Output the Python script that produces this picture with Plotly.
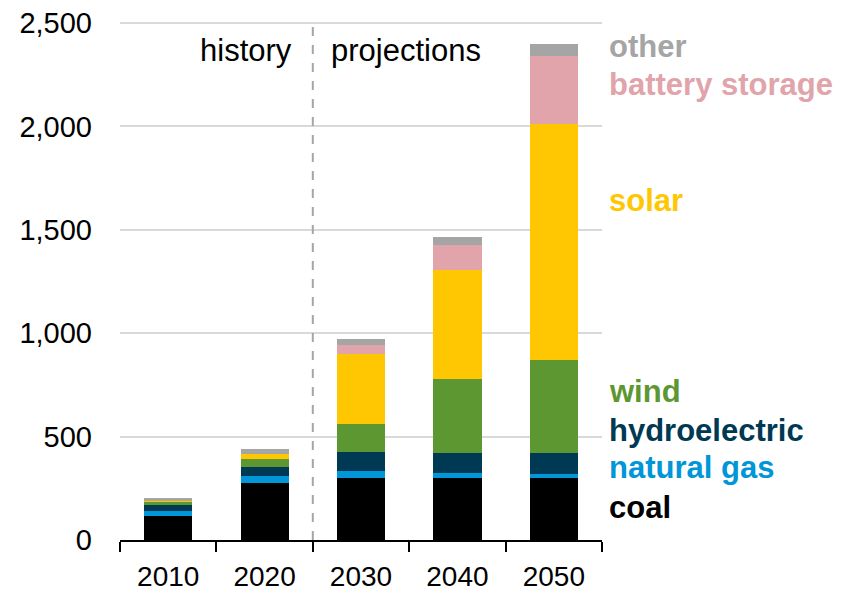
import plotly.graph_objects as go

years = ["2010", "2020", "2030", "2040", "2050"]
coal = [115, 278, 302, 302, 302]
natural_gas = [26, 31, 31, 23, 18]
hydroelectric = [29, 42, 91, 94, 99]
wind = [16, 39, 139, 358, 450]
solar = [2, 27, 337, 529, 1144]
battery_storage = [0, 0, 43, 120, 330]
other = [14, 25, 31, 41, 56]

series = [
    ("coal", coal, "#000000"),
    ("natural gas", natural_gas, "#0096D7"),
    ("hydroelectric", hydroelectric, "#003953"),
    ("wind", wind, "#5D9732"),
    ("solar", solar, "#FFC702"),
    ("battery storage", battery_storage, "#E1A4AA"),
    ("other", other, "#A5A5A5"),
]

FONT = "Arial, Liberation Sans, sans-serif"

# page has an 8px body margin, so figure is sized/shifted to compensate
OFF = 8
W, H = 841 - OFF, 591 - OFF
PL, PR, PT, PB = 120, 602, 22, 540  # plot area in screen pixels

fig = go.Figure()
for name, vals, col in series:
    fig.add_trace(go.Bar(x=years, y=vals, name=name, marker_color=col,
                         marker_line_width=0, showlegend=False))

fig.update_layout(
    barmode="stack",
    bargap=0.5,
    width=W, height=H,
    margin=dict(l=PL - OFF, r=W - (PR - OFF), t=PT - OFF, b=H - (PB - OFF), pad=0,
                autoexpand=False),
    plot_bgcolor="white", paper_bgcolor="white",
    font=dict(family=FONT, size=28, color="#000000"),
)
fig.update_yaxes(range=[0, 2505], tickvals=[0, 500, 1000, 1500, 2000, 2500],
                 ticktext=["0", "500", "1,000", "1,500", "2,000", "2,500"],
                 showgrid=True, gridcolor="#D9D9D9", gridwidth=1.5,
                 zeroline=False, showline=False, ticks="", automargin=False,
                 ticklabeloverflow="allow",
                 ticklabelstandoff=27, tickfont=dict(size=29))
fig.update_xaxes(showline=True, linecolor="#000000", linewidth=1.5,
                 ticks="outside", tickson="boundaries", ticklen=10,
                 tickcolor="#000000", tickwidth=1.5, tickfont=dict(size=28),
                 ticklabeloverflow="allow",
                 ticklabelstandoff=11, range=[-0.5, 4.5], automargin=False)

fig.add_shape(type="line", xref="x", yref="paper", x0=1.5, x1=1.5, y0=0, y1=1,
              line=dict(color="#A5A5A5", width=2, dash="dash"))

def px(x):
    return (x - PL) / (PR - PL)

def py(y):
    return (PB - y) / (PB - PT)

fig.add_annotation(text="history", xref="paper", yref="paper", x=px(246), y=py(50),
                   showarrow=False, font=dict(size=31, color="#000000"),
                   xanchor="center", yanchor="middle")
fig.add_annotation(text="projections", xref="paper", yref="paper", x=px(406), y=py(50),
                   showarrow=False, font=dict(size=31, color="#000000"),
                   xanchor="center", yanchor="middle")

label_pos = [
    ("coal", "#000000", 507),
    ("natural gas", "#0096D7", 467),
    ("hydroelectric", "#003953", 430),
    ("wind", "#5D9732", 391),
    ("solar", "#FFC702", 200),
    ("battery storage", "#E1A4AA", 84),
    ("other", "#A5A5A5", 46),
]
for name, col, yy in label_pos:
    fig.add_annotation(text="<b>%s</b>" % name, xref="paper", yref="paper",
                       x=px(607), y=py(yy),
                       xanchor="left", yanchor="middle", showarrow=False,
                       font=dict(size=31, color=col))

fig.write_html("out.html")
